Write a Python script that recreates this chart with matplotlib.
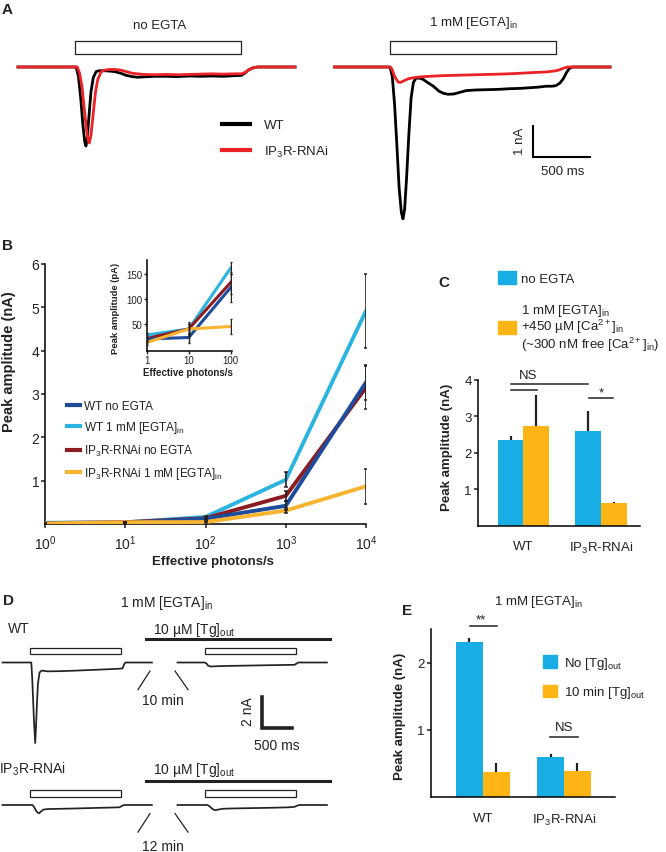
import matplotlib
matplotlib.use('Agg')
import matplotlib.pyplot as plt
from matplotlib.patches import Rectangle, Patch
from matplotlib.lines import Line2D
from matplotlib.ticker import NullLocator, FixedLocator, FixedFormatter

plt.rcParams['font.family'] = ['Liberation Sans', 'DejaVu Sans']
plt.rcParams['mathtext.fontset'] = 'custom'
plt.rcParams['mathtext.rm'] = 'Liberation Sans'
plt.rcParams['mathtext.it'] = 'Liberation Sans:italic'
plt.rcParams['mathtext.bf'] = 'Liberation Sans:bold'
plt.rcParams['axes.linewidth'] = 1.1
plt.rcParams['text.color'] = '#222222'

# ---------------- DATA ----------------
stim_ms = 1460          # light stimulus duration (ms)

# Panel A, no EGTA (time ms from light onset, current nA)
a1_wt_t = [-500, 0, 10, 30, 50, 70, 85, 96, 108, 120, 140, 160, 185, 210, 250, 300, 350, 400, 450, 500,
           550, 600, 700, 800, 900, 1000, 1100, 1200, 1300, 1400, 1460, 1490, 1520, 1560, 1600, 1930]
a1_wt_i = [0, 0, 0, -0.3, -1.0, -1.9, -2.4, -2.55, -2.3, -1.7, -0.8, -0.35, -0.15, -0.12, -0.12, -0.13,
           -0.15, -0.2, -0.27, -0.31, -0.33, -0.32, -0.3, -0.3, -0.31, -0.29, -0.3, -0.29, -0.3, -0.28,
           -0.27, -0.2, -0.1, -0.03, 0, 0]
a1_rnai_t = [-500, 0, 20, 40, 60, 80, 100, 115, 125, 140, 160, 180, 200, 230, 260, 300, 350, 400, 450, 500,
             600, 700, 800, 900, 1000, 1100, 1200, 1300, 1400, 1460, 1490, 1520, 1560, 1600, 1930]
a1_rnai_i = [0, 0, 0, -0.2, -0.6, -1.3, -2.0, -2.35, -2.45, -2.2, -1.5, -0.8, -0.4, -0.15, -0.1, -0.08,
             -0.08, -0.1, -0.15, -0.2, -0.24, -0.25, -0.24, -0.25, -0.24, -0.23, -0.22, -0.23, -0.22,
             -0.22, -0.18, -0.1, -0.03, 0, 0]
# Panel A, 1 mM EGTA
a2_wt_t = [-500, 0, 20, 40, 60, 80, 100, 114, 128, 145, 165, 185, 205, 228, 260, 290, 330, 380, 430, 470,
           510, 560, 670, 760, 860, 962, 1050, 1140, 1220, 1300, 1371, 1420, 1456, 1490, 1520, 1545, 1570,
           1600, 1930]
a2_wt_i = [0, 0, -0.3, -1.2, -2.5, -3.9, -4.7, -4.9, -4.6, -3.6, -2.2, -1.0, -0.5, -0.36, -0.36, -0.4,
           -0.5, -0.62, -0.78, -0.85, -0.88, -0.87, -0.76, -0.74, -0.73, -0.72, -0.7, -0.69, -0.67, -0.65,
           -0.62, -0.62, -0.6, -0.52, -0.38, -0.2, -0.06, 0, 0]
a2_rnai_t = [-500, 0, 15, 40, 70, 90, 120, 160, 200, 260, 350, 450, 550, 650, 750, 850, 965, 1100, 1250,
             1370, 1440, 1480, 1520, 1560, 1930]
a2_rnai_i = [0, 0, -0.05, -0.3, -0.48, -0.5, -0.45, -0.38, -0.35, -0.32, -0.3, -0.28, -0.27, -0.26,
             -0.25, -0.24, -0.23, -0.21, -0.18, -0.16, -0.13, -0.1, -0.04, 0, 0]

# Panel B: peak amplitude (nA) vs effective photons/s
photons = [1, 10, 100, 1000, 10000]
b_wt_noegta = [0.020, 0.023, 0.123, 0.42, 3.27]
b_wt_egta = [0.028, 0.040, 0.162, 1.02, 4.92]
b_rnai_noegta = [0.021, 0.040, 0.133, 0.65, 3.15]
b_rnai_egta = [0.013, 0.040, 0.045, 0.31, 0.87]
b_wt_noegta_err = [0.004, 0.010, 0.028, 0.10, 0.40]
b_wt_egta_err = [0.004, 0.014, 0.012, 0.17, 0.85]
b_rnai_noegta_err = [0.004, 0.010, 0.022, 0.12, 0.50]
b_rnai_egta_err = [0.004, 0.010, 0.015, 0.05, 0.40]
b_labels = ['WT no EGTA', r'WT 1 mM [EGTA]$_{\mathrm{in}}$', r'IP$_3$R-RNAi no EGTA',
            r'IP$_3$R-RNAi 1 mM [EGTA]$_{\mathrm{in}}$']
n_inset = 3  # inset shows the first three intensities in pA

# Panel C
c_groups = ['WT', r'IP$_3$R-RNAi']
c_noegta = [2.34, 2.61]
c_noegta_err = [0.13, 0.54]
c_egta_ca = [2.73, 0.64]
c_egta_ca_err = [0.85, 0.02]

# Panel D traces (time ms from light onset, current nA)
d_wt_ctrl_t = [-450, 30, 45, 60, 75, 95, 110, 125, 140, 167, 200, 300, 500, 800, 1100, 1400, 1500, 1550,
               1575, 1600, 2040]
d_wt_ctrl_i = [0, 0, -1.0, -2.4, -3.8, -5.2, -4.0, -2.6, -1.4, -0.65, -0.52, -0.57, -0.56, -0.52, -0.47,
               -0.42, -0.4, -0.38, -0.12, 0, 0]
d_wt_tg_t = [-450, 0, 30, 60, 100, 150, 200, 400, 700, 1000, 1300, 1500, 1530, 1560, 2040]
d_wt_tg_i = [0, 0, -0.05, -0.2, -0.26, -0.25, -0.24, -0.22, -0.2, -0.18, -0.16, -0.15, -0.08, 0, 0]
d_rnai_ctrl_t = [-450, 50, 80, 110, 140, 163, 190, 230, 300, 450, 700, 1000, 1300, 1500, 1540, 1580, 2040]
d_rnai_ctrl_i = [0, 0, -0.15, -0.38, -0.5, -0.53, -0.42, -0.3, -0.26, -0.25, -0.23, -0.2, -0.17, -0.15,
                 -0.06, 0, 0]
d_rnai_tg_t = [-450, 50, 90, 130, 175, 220, 313, 500, 800, 1100, 1400, 1500, 1540, 1580, 2040]
d_rnai_tg_i = [0, 0, -0.1, -0.25, -0.34, -0.3, -0.24, -0.22, -0.2, -0.18, -0.15, -0.12, -0.05, 0, 0]

# Panel E
e_groups = ['WT', r'IP$_3$R-RNAi']
e_no_tg = [2.31, 0.59]
e_no_tg_err = [0.06, 0.05]
e_tg = [0.376, 0.39]
e_tg_err = [0.124, 0.12]

# ---------------- STYLE ----------------
RED = '#EC2227'
C_DBLUE = '#1E4C9C'
C_LBLUE = '#2BB4E0'
C_DRED = '#8C1B22'
C_ORANGE = '#F8B430'
BAR_BLUE = '#18ADE4'
BAR_ORANGE = '#FDB515'

W, H = 666, 853
fig = plt.figure(figsize=(W / 100, H / 100), dpi=100)


def fx(px):
    return px / W


def fy(py):
    return 1 - py / H


def axpos(l, t, r, b):
    return [l / W, 1 - b / H, (r - l) / W, (b - t) / H]


def ftext(px, py, s, **kw):
    kw.setdefault('ha', 'center')
    kw.setdefault('va', 'center')
    return fig.text(fx(px), fy(py), s, **kw)


# ---------------- PANEL A ----------------
A_PXMS = 0.114   # px per ms
A_PXNA = 31.0    # px per nA
A_BASE = 68      # baseline pixel row


def a_axes(left_px, right_px, onset_px):
    ax = fig.add_axes(axpos(left_px, 0, right_px, 235))
    ax.axis('off')
    ax.set_xlim((left_px - onset_px) / A_PXMS, (right_px - onset_px) / A_PXMS)
    ax.set_ylim((A_BASE - 235) / A_PXNA, A_BASE / A_PXNA)
    ax.add_patch(Rectangle((0, 0.42), stim_ms, 0.42, fill=False, lw=0.9, ec='#222222', zorder=1))
    return ax


axA1 = a_axes(0, 333, 75)
axA1.plot(a1_wt_t, a1_wt_i, color='black', lw=2.0, zorder=3)
axA1.plot(a1_rnai_t, a1_rnai_i, color=RED, lw=2.0, zorder=4)
axA2 = a_axes(333, 666, 390)
axA2.plot(a2_wt_t, a2_wt_i, color='black', lw=2.0, zorder=3)
axA2.plot(a2_rnai_t, a2_rnai_i, color=RED, lw=2.0, zorder=4)
# scale bar 1 nA / 500 ms
axA2.plot([1254, 1254, 1754], [-1.9, -2.9, -2.9], color='black', lw=1.5, solid_joinstyle='miter')
ftext(520, 141, '1 nA', rotation=90, fontsize=9.5)
ftext(563, 172, '500 ms', fontsize=9.5)
ftext(160, 26, 'no EGTA', fontsize=9.5)
ftext(473, 23, r'1 mM [EGTA]$_{\mathrm{in}}$', fontsize=9.5)
axA1.legend([Line2D([], [], color='black', lw=3), Line2D([], [], color=RED, lw=3)],
            ['WT', r'IP$_3$R-RNAi'], loc='upper left', bbox_to_anchor=(fx(222), fy(120)),
            bbox_transform=fig.transFigure, frameon=False, fontsize=9.5, handlelength=2.1,
            handletextpad=1.1, labelspacing=0.95, borderpad=0, borderaxespad=0)
ftext(7, 10, 'A', fontsize=11, fontweight='bold')

# ---------------- PANEL B ----------------
axB = fig.add_axes(axpos(45, 265, 366, 525))
series = [(b_wt_egta, b_wt_egta_err, C_LBLUE), (b_rnai_noegta, b_rnai_noegta_err, C_DRED),
          (b_wt_noegta, b_wt_noegta_err, C_DBLUE), (b_rnai_egta, b_rnai_egta_err, C_ORANGE)]
for vals, err, col in series:
    axB.plot(photons, vals, color=col, lw=2.8, solid_capstyle='round', zorder=3)
for vals, err, col in series:
    axB.errorbar(photons, vals, yerr=err, fmt='none', ecolor='#222222', elinewidth=1.2, capsize=1.2,
                 capthick=1.1, zorder=4)
axB.set_xscale('log')
axB.set_xlim(1, 1e4)
axB.set_ylim(0, 6)
axB.xaxis.set_minor_locator(NullLocator())
axB.set_xticks(photons)
axB.set_yticks([1, 2, 3, 4, 5, 6])
for s in ['top', 'right']:
    axB.spines[s].set_visible(False)
axB.tick_params(axis='both', direction='out', length=3, width=1.1, labelsize=10, colors='#222222')
axB.tick_params(axis='y', pad=1)
axB.tick_params(axis='x', pad=4)
ftext(9, 362, 'Peak amplitude (nA)', rotation=90, fontsize=10.5, fontweight='bold')
ftext(213, 562, 'Effective photons/s', fontsize=9.5, fontweight='bold')
handles = [Line2D([], [], color=c, lw=3) for c in [C_DBLUE, C_LBLUE, C_DRED, C_ORANGE]]
axB.legend(handles, b_labels, loc='upper left', bbox_to_anchor=(fx(67), fy(401)),
           bbox_transform=fig.transFigure, frameon=False, fontsize=8.5, handlelength=1.1,
           handletextpad=0.35, labelspacing=0.62, borderpad=0, borderaxespad=0)
ftext(7, 246, 'B', fontsize=11, fontweight='bold')

# inset
axI = fig.add_axes(axpos(146.7, 260.7, 231.7, 351.7))
for vals, err, col in series:
    axI.plot(photons[:n_inset], [v * 1000 for v in vals[:n_inset]], color=col, lw=2.2, zorder=3)
for vals, err, col in series:
    axI.errorbar(photons[:n_inset], [v * 1000 for v in vals[:n_inset]],
                 yerr=[e * 1000 for e in err[:n_inset]], fmt='none', ecolor='#222222',
                 elinewidth=1.0, capsize=1.0, zorder=4)
axI.set_xscale('log')
axI.set_xlim(1, 105.6)
axI.set_ylim(-3.4, 178.6)
axI.xaxis.set_minor_locator(NullLocator())
axI.xaxis.set_major_locator(FixedLocator(photons[:n_inset]))
axI.xaxis.set_major_formatter(FixedFormatter([str(p) for p in photons[:n_inset]]))
axI.set_yticks([50, 100, 150])
for s in ['top', 'right']:
    axI.spines[s].set_visible(False)
axI.tick_params(axis='both', direction='out', length=2, width=1.0, labelsize=7, pad=1,
                colors='#222222')
ftext(116, 308, 'Peak amplitude (pA)', rotation=90, fontsize=6.8, fontweight='bold')
ftext(188, 373, 'Effective photons/s', fontsize=7, fontweight='bold')

# ---------------- PANEL C ----------------
BW = 0.33
axC = fig.add_axes(axpos(478, 380.7, 640, 527))
xs = list(range(len(c_groups)))
ekw = dict(ecolor='#222222', elinewidth=1.6, capsize=0)
axC.bar([x - BW / 2 for x in xs], c_noegta, BW, color=BAR_BLUE,
        yerr=[[0] * len(xs), c_noegta_err], error_kw=ekw, zorder=2)
axC.bar([x + BW / 2 for x in xs], c_egta_ca, BW, color=BAR_ORANGE,
        yerr=[[0] * len(xs), c_egta_ca_err], error_kw=ekw, zorder=2)
axC.set_xlim(-0.583, 1.5)
axC.set_ylim(0, 4)
axC.set_yticks([1, 2, 3, 4])
axC.set_xticks(xs)
axC.set_xticklabels(c_groups, fontsize=9.5)
for s in ['top', 'right']:
    axC.spines[s].set_visible(False)
axC.tick_params(axis='y', direction='out', length=3, width=1.1, labelsize=9.5, pad=1.5,
                colors='#222222')
axC.tick_params(axis='x', length=0, pad=10, colors='#222222')
sig = dict(color='#222222', lw=1.1, clip_on=False)
axC.plot([-0.162, 0.833], [3.87, 3.87], **sig)
axC.plot([-0.162, 0.172], [3.71, 3.71], **sig)
axC.plot([0.846, 1.15], [3.51, 3.51], **sig)
axC.text(0.06, 4.14, 'NS', ha='center', va='center', fontsize=9.5)
axC.text(1.0, 3.66, '*', ha='center', va='center', fontsize=9.5)
ftext(447, 447, 'Peak amplitude (nA)', rotation=90, fontsize=9.5, fontweight='bold')
c_leg_labels = ['no EGTA', '1 mM [EGTA]$_{\\mathrm{in}}$\n+450 µM [Ca$^{2+}$]$_{\\mathrm{in}}$\n'
                '(~300 nM free [Ca$^{2+}$]$_{\\mathrm{in}}$)']
legC = axC.legend([Patch(color=BAR_BLUE), Patch(color=BAR_ORANGE)], c_leg_labels, loc='upper left',
                  bbox_to_anchor=(fx(498), fy(272)), bbox_transform=fig.transFigure, frameon=False,
                  fontsize=9.5, handlelength=1.36, handleheight=1.15, handletextpad=0.4,
                  labelspacing=1.25, borderpad=0, borderaxespad=0)
legC.get_texts()[1].set_linespacing(0.95)
ftext(444, 283, 'C', fontsize=11, fontweight='bold')

# ---------------- PANEL D ----------------
D_PXMS = 0.06
D_PXNA = 15.5
D_BASE = 663.5
D_ONSET = 29.5
tg_shift = (204.5 - 29.5) / D_PXMS          # horizontal position of the Tg traces (ms)
rnai_shift = (D_BASE - 806) / D_PXNA         # vertical position of the RNAi traces (nA)
axD = fig.add_axes(axpos(0, 580, 420, 853))
axD.axis('off')
axD.set_xlim((0 - D_ONSET) / D_PXMS, (420 - D_ONSET) / D_PXMS)
axD.set_ylim((D_BASE - 853) / D_PXNA, (D_BASE - 580) / D_PXNA)
tr = dict(color='#222222', lw=1.25)
for yoff, ctrl_t, ctrl_i, tg_t, tg_i in [(0, d_wt_ctrl_t, d_wt_ctrl_i, d_wt_tg_t, d_wt_tg_i),
                                          (rnai_shift, d_rnai_ctrl_t, d_rnai_ctrl_i, d_rnai_tg_t,
                                           d_rnai_tg_i)]:
    axD.plot(ctrl_t, [v + yoff for v in ctrl_i], **tr)
    axD.plot([t + tg_shift for t in tg_t], [v + yoff for v in tg_i], **tr)
    for xo in [0, tg_shift]:
        axD.add_patch(Rectangle((xo, 0.52 + yoff), 1530, 0.43, fill=False, lw=0.9, ec='#222222'))
    axD.plot([1942, 5008], [1.52 + yoff, 1.52 + yoff], color='#222222', lw=2.2)
    axD.plot([1808, 2008], [-1.75 + yoff, -0.55 + yoff], color='#222222', lw=0.9)
    axD.plot([2425, 2642], [-0.55 + yoff, -1.75 + yoff], color='#222222', lw=0.9)
# scale bar 2 nA / 500 ms
axD.plot([3875, 3875, 4375], [-2.23, -4.23, -4.23], color='#222222', lw=2.6, solid_joinstyle='miter')
ftext(248, 712, '2 nA', rotation=90, fontsize=10)
ftext(277, 746, '500 ms', fontsize=10)
ftext(167, 603, r'1 mM [EGTA]$_{\mathrm{in}}$', fontsize=10)
ftext(8, 629, 'WT', fontsize=10, ha='left')
ftext(153, 630, r'10 µM [Tg]$_{\mathrm{out}}$', fontsize=10, ha='left')
ftext(163, 701, '10 min', fontsize=10)
ftext(-1, 769, r'IP$_3$R-RNAi', fontsize=10, ha='left')
ftext(153, 770, r'10 µM [Tg]$_{\mathrm{out}}$', fontsize=10, ha='left')
ftext(163, 847, '12 min', fontsize=10)
ftext(8, 601, 'D', fontsize=11, fontweight='bold')

# ---------------- PANEL E ----------------
axE = fig.add_axes(axpos(431, 630, 615, 798))
xs = list(range(len(e_groups)))
axE.bar([x - BW / 2 for x in xs], e_no_tg, BW, color=BAR_BLUE,
        yerr=[[0] * len(xs), e_no_tg_err], error_kw=ekw, zorder=2)
axE.bar([x + BW / 2 for x in xs], e_tg, BW, color=BAR_ORANGE,
        yerr=[[0] * len(xs), e_tg_err], error_kw=ekw, zorder=2)
axE.set_xlim(-0.636, 1.627)
axE.set_ylim(0, 2.5)
axE.set_yticks([1, 2])
axE.set_xticks(xs)
axE.set_xticklabels(e_groups, fontsize=9.5)
for s in ['top', 'right']:
    axE.spines[s].set_visible(False)
axE.tick_params(axis='y', direction='out', length=3, width=1.1, labelsize=9.5, pad=1.5,
                colors='#222222')
axE.tick_params(axis='x', length=0, pad=11, colors='#222222')
axE.plot([-0.156, 0.17], [2.545, 2.545], **sig)
axE.text(-0.02, 2.64, '**', ha='center', va='center', fontsize=9.5)
axE.plot([0.828, 1.176], [0.9, 0.9], **sig)
axE.text(1.0, 1.04, 'NS', ha='center', va='center', fontsize=9.5)
axE.legend([Patch(color=BAR_BLUE), Patch(color=BAR_ORANGE)],
           [r'No [Tg]$_{\mathrm{out}}$', r'10 min [Tg]$_{\mathrm{out}}$'], loc='upper left',
           bbox_to_anchor=(fx(543), fy(656)), bbox_transform=fig.transFigure, frameon=False,
           fontsize=9.5, handlelength=1.05, handleheight=1.05, handletextpad=0.55, labelspacing=1.0,
           borderpad=0, borderaxespad=0)
ftext(538, 602, r'1 mM [EGTA]$_{\mathrm{in}}$', fontsize=9.5)
ftext(400, 716, 'Peak amplitude (nA)', rotation=90, fontsize=9.5, fontweight='bold')
ftext(407, 611, 'E', fontsize=11, fontweight='bold')

fig.savefig('out.png', dpi=100)
